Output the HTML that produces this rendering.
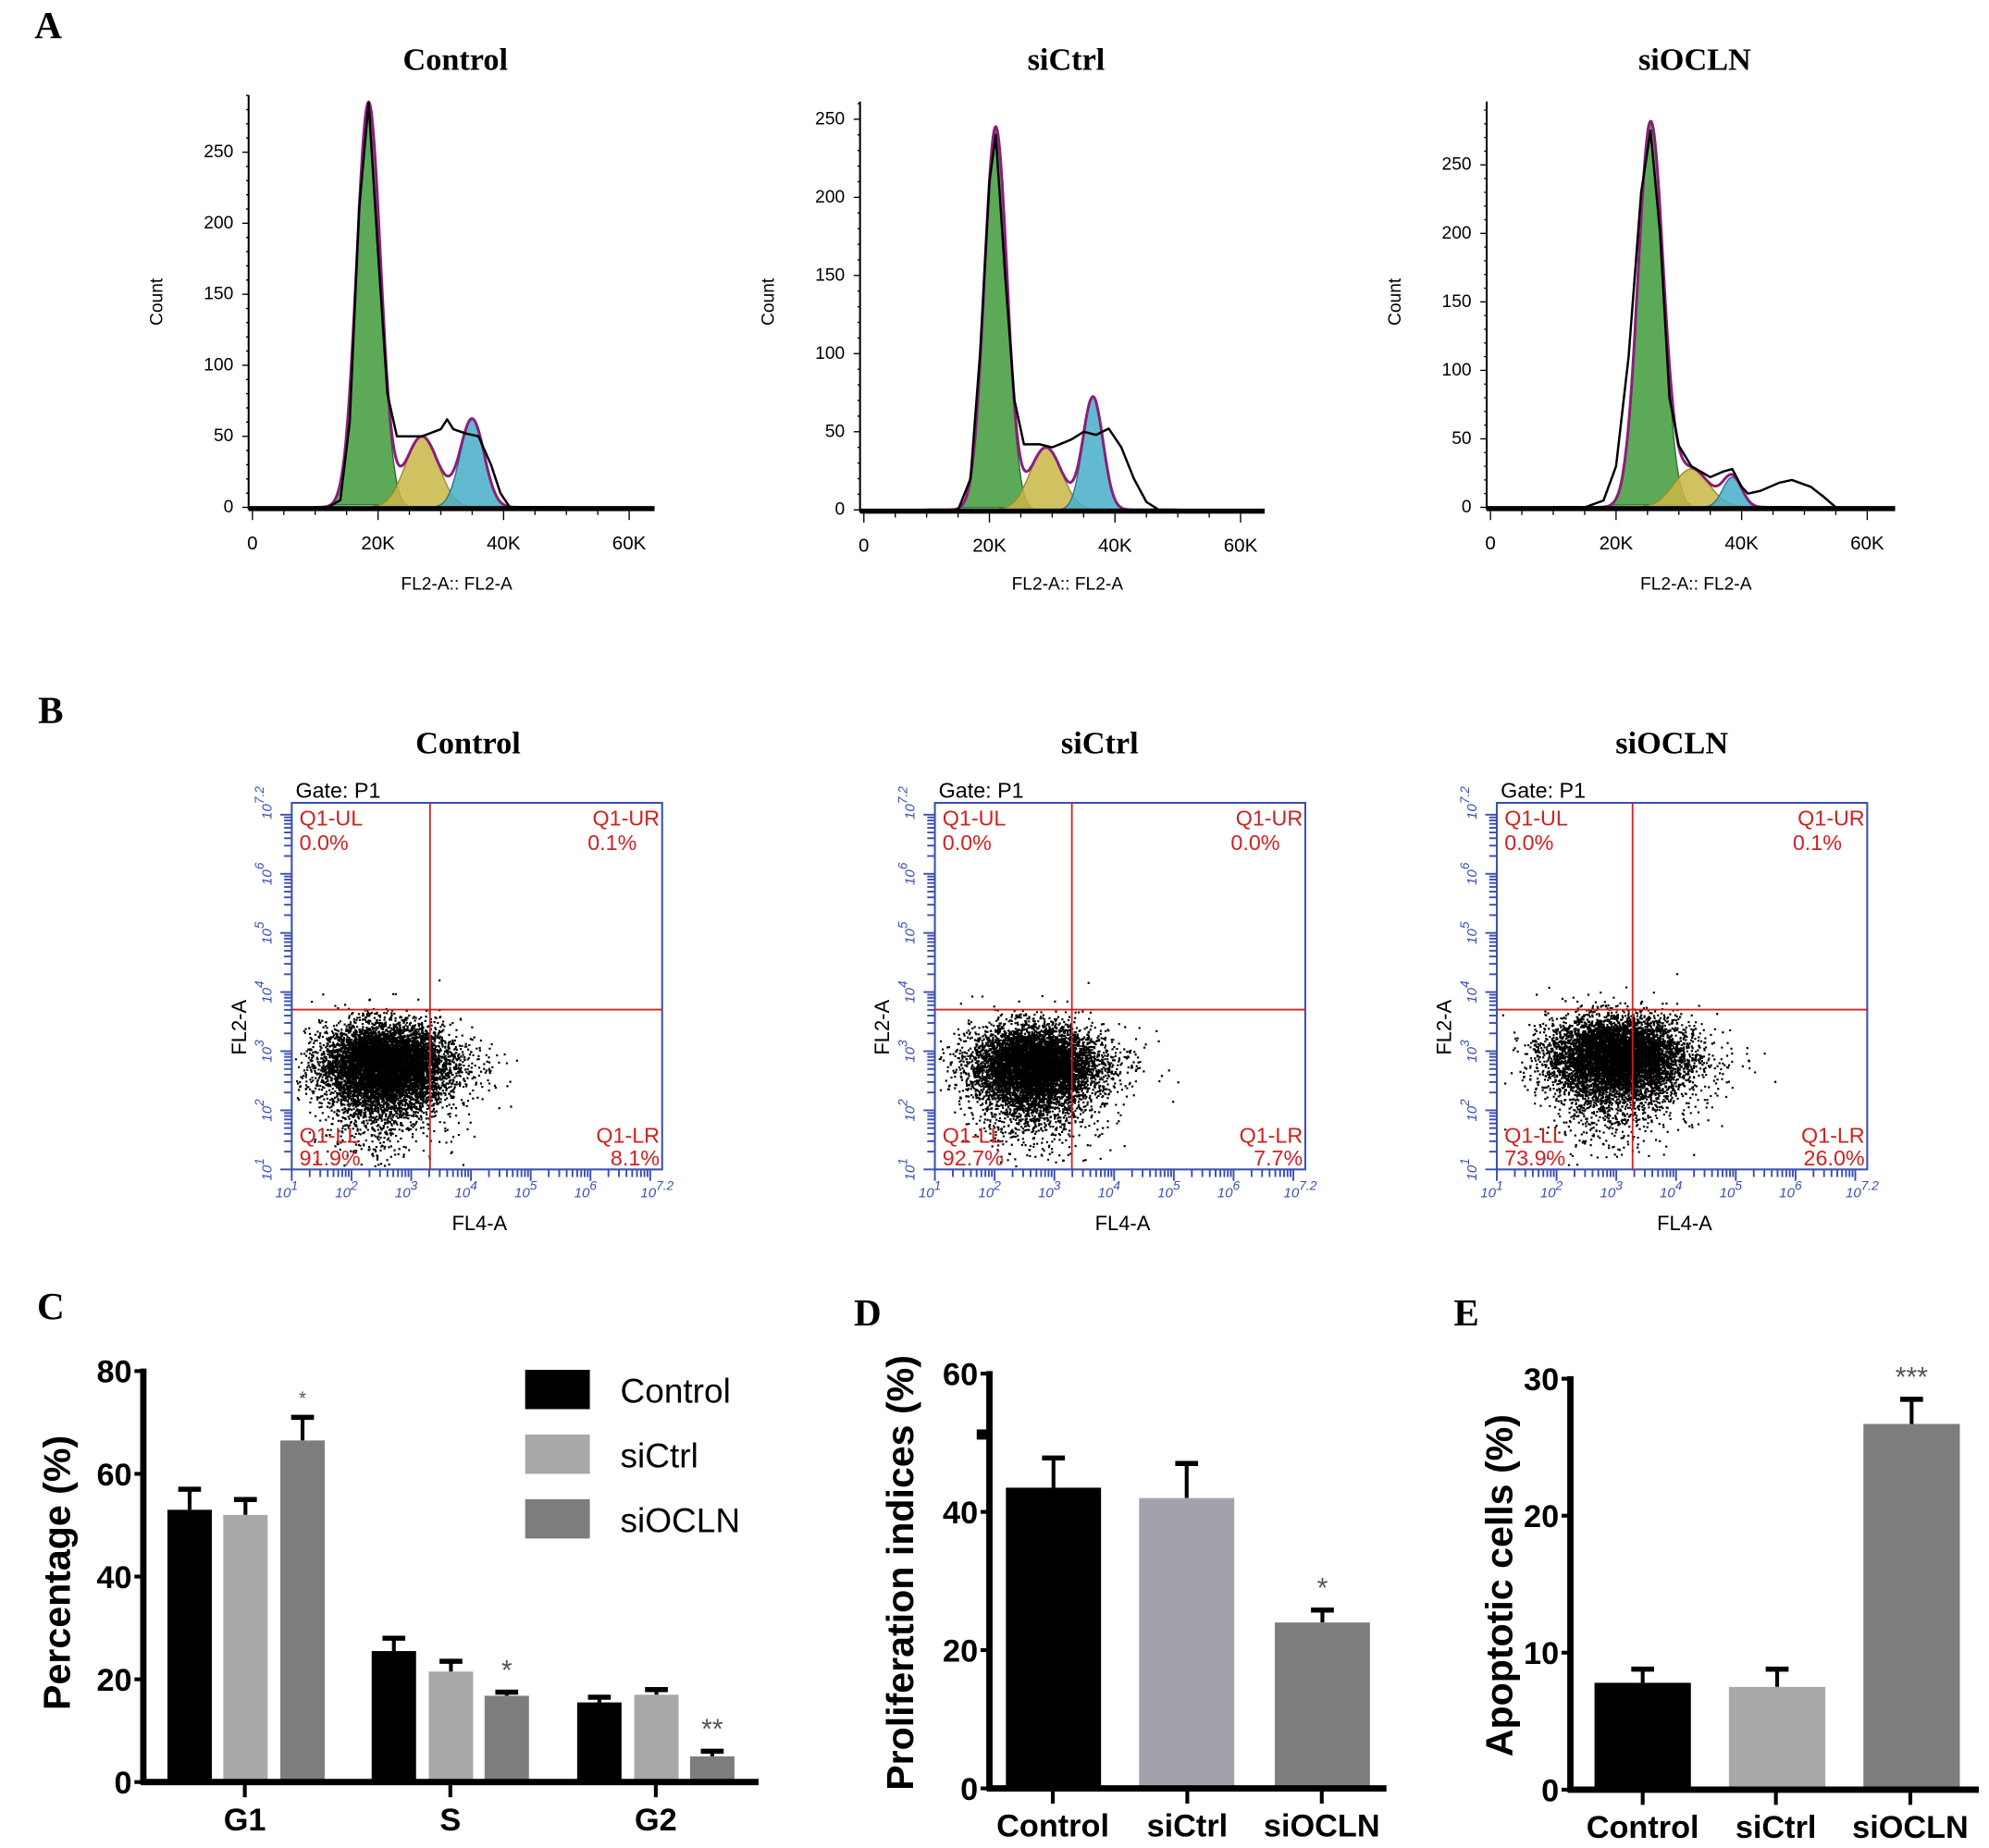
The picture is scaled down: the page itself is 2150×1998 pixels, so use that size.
<!DOCTYPE html>
<html><head><meta charset="utf-8"><style>
html,body{margin:0;padding:0;background:#fff;}
svg{display:block;}
text{font-family:"Liberation Sans",sans-serif;}
.serif{font-family:"Liberation Serif",serif;font-weight:bold;}
</style></head><body>
<svg id="fig" width="2150" height="1998" viewBox="0 0 1568 1457" preserveAspectRatio="none" xmlns="http://www.w3.org/2000/svg">
<rect width="1568" height="1457" fill="#fff"/>
<g id="root"></g>
</svg>
<script>
// ---------- DATA ----------
const histTitles = ["Control","siCtrl","siOCLN"];
const g1Comp = [[18.5,285,1.9],[21,245,1.8],[25.5,280,2.0]];
const sComp  = [[27,50,2.6],[29,40,2.5],[32,28,2.8]];
const g2Comp = [[35,62,1.9],[36.5,72,1.6],[38.5,22,1.5]];
const rawX0 = [12,14,15.5,17,18.5,20,21.5,23,24.5,27,30,31,32,34,36,38,39.5,41];
const rawY0 = [0,5,60,210,285,180,80,50,50,50,55,62,55,52,50,30,10,0];
const rawX1 = [15,17,18.5,20,21,22.5,24,25.5,28,30,33,35,37,39,41,43,45,47];
const rawY1 = [0,20,100,210,240,150,70,42,42,40,45,50,48,52,40,20,5,0];
const rawX2 = [15,18,20,22,24,25.5,27,28.5,30,32,35,37,38.5,40,41,43,46,48,51,53,55];
const rawY2 = [0,5,30,110,230,275,200,80,45,30,22,26,28,15,10,12,18,20,15,8,0];
const histTicksX = ["0","20K","40K","60K"];
const histTickVals = [0,20,40,60];
const countTicks = [0,50,100,150,200,250];

const scatTitles = ["Control","siCtrl","siOCLN"];
const cloudCx = [2.5,2.6,2.95];
const cloudCy = [2.8,2.8,2.95];
const cloudSx = [0.5,0.5,0.55];
const cloudSy = [0.33,0.32,0.32];
const qUL = ["0.0%","0.0%","0.0%"];
const qUR = ["0.1%","0.0%","0.1%"];
const qLL = ["91.9%","92.7%","73.9%"];
const qLR = ["8.1%","7.7%","26.0%"];

const phases = ["G1","S","G2"];
const groups = ["Control","siCtrl","siOCLN"];
const cControl = [53,25.5,15.5];
const cSiCtrl  = [52,21.5,17];
const cSiOCLN  = [66.5,16.8,5];
const cErrControl = [57,28,16.5];
const cErrSiCtrl  = [55,23.5,18];
const cErrSiOCLN  = [71,17.5,6];
const cStars = ["*","*","**"];
const cTicks = [0,20,40,60,80];
const dValues = [43.5,42,24];
const dErr = [47.8,47,25.8];
const dTicks = [0,20,40,60];
const eValues = [7.8,7.5,26.7];
const eErr = [8.8,8.8,28.5];
const eTicks = [0,10,20,30];

// ---------- DRAW ----------
const NS="http://www.w3.org/2000/svg";
const root=document.getElementById('root');
function mk(tag,attrs,parent,txt){const e=document.createElementNS(NS,tag);for(const k in attrs)e.setAttribute(k,attrs[k]);if(txt!==undefined)e.textContent=txt;(parent||root).appendChild(e);return e;}

[["A",38,30],["B",40,570],["C",40,1040],["D",684,1045],["E",1156,1045]].forEach(p=>{
  const t=mk('text',{x:p[1],y:p[2],'font-size':30,'text-anchor':'middle',class:'serif'},root,p[0]);
  
  
});

// ---- Panel A ----
const hLay=[{ax:196,x0:199,y0:400,pc:1.12,right:516,top:75},{ax:678,x0:681,y0:402,pc:1.232,right:997,top:80},{ax:1172,x0:1175,y0:400,pc:1.08,right:1494,top:80}];
const raws=[[rawX0,rawY0],[rawX1,rawY1],[rawX2,rawY2]];
function gauss(c,x){return c[1]*Math.exp(-0.5*Math.pow((x-c[0])/c[2],2));}
hLay.forEach((L,i)=>{
  const g=mk('g',{});
  
  
  const X=k=>L.x0+k*4.95, Y=v=>L.y0-v*L.pc;
  const cx=(L.ax+L.right)/2;
  const t=mk('text',{x:cx+3,y:55,'font-size':25,'text-anchor':'middle',class:'serif'},g,histTitles[i]);
  
  const comps=[[g1Comp[i],'#3f9a3a','#2d6e2a'],[sComp[i],'#c9b745','#9a8a2a'],[g2Comp[i],'#46aec8','#2a6e9a']];
  comps.forEach((c,j)=>{
    let d='';for(let k=c[0][0]-3.2*c[0][2];k<=c[0][0]+3.2*c[0][2];k+=0.1){d+=(d?'L':'M')+X(k).toFixed(1)+','+Y(gauss(c[0],k)).toFixed(1);}
    const p=mk('path',{d:d+'Z',fill:c[1],'fill-opacity':0.85,stroke:c[2],'stroke-width':1},g);
    
  });
  let d='';for(let k=10;k<=50;k+=0.1){const v=gauss(g1Comp[i],k)+gauss(sComp[i],k)+gauss(g2Comp[i],k);d+=(d?'L':'M')+X(k).toFixed(1)+','+Y(v).toFixed(1);}
  const env=mk('path',{d,fill:'none',stroke:'#8a1f7a','stroke-width':2.2},g);
  
  const [rx,ry]=raws[i];let dr='';rx.forEach((x,k)=>{dr+=(k?'L':'M')+X(x).toFixed(1)+','+Y(ry[k]).toFixed(1);});
  const raw=mk('path',{d:dr,fill:'none',stroke:'#000','stroke-width':1.8,'stroke-linejoin':'round'},g);
  
  const ya=mk('line',{x1:L.ax,y1:L.top,x2:L.ax,y2:L.y0+2,stroke:'#000','stroke-width':1.5},g);
  
  const xa=mk('line',{x1:L.ax,y1:L.y0+1,x2:L.right,y2:L.y0+1,stroke:'#000','stroke-width':4},g);
  
  for(let v=0;Y(v)>=L.top;v+=10){mk('line',{x1:L.ax-(v%50?2:5),y1:Y(v),x2:L.ax,y2:Y(v),stroke:'#000','stroke-width':1},g);}
  countTicks.forEach(v=>{if(Y(v)<L.top)return;const tt=mk('text',{x:L.ax-12,y:Y(v)+4,'font-size':14,'text-anchor':'end'},g,String(v));});
  for(let k=0;X(k)<=L.right;k+=5){mk('line',{x1:X(k),y1:L.y0+3,x2:X(k),y2:L.y0+(k%20?6:10),stroke:'#000','stroke-width':1},g);}
  histTickVals.forEach((v,k)=>{const tt=mk('text',{x:X(v),y:L.y0+33,'font-size':15,'text-anchor':'middle'},g,histTicksX[k]);});
  const xl=mk('text',{x:cx+4,y:465,'font-size':14,'text-anchor':'middle'},g,'FL2-A:: FL2-A');
  const yl=mk('text',{x:L.ax-68,y:238,'font-size':14,'text-anchor':'middle',transform:`rotate(-90 ${L.ax-68} 238)`},g,'Count');
});

// ---- Panel B ----
let seed=12345;function rnd(){seed=(seed*1103515245+12345)%2147483648;return seed/2147483648;}
function nrm(){let u=rnd()||1e-9,v=rnd();return Math.sqrt(-2*Math.log(u))*Math.cos(2*Math.PI*v);}
const sLay=[{x:230,qx:339,tx:369},{x:737,qx:845,tx:867},{x:1180,qx:1287,tx:1318}];
sLay.forEach((L,i)=>{
  const g=mk('g',{});
  const top=633,bot=922,w=292;
  const X=d=>L.x+(d-1)/6.2*w, Y=d=>bot-(d-1)/6.2*(bot-top);
  const t=mk('text',{x:L.tx,y:594,'font-size':25,'text-anchor':'middle',class:'serif'},g,scatTitles[i]);
  let d='';
  for(let n=0;n<9000;n++){let dx=cloudCx[i]+nrm()*cloudSx[i],dy=cloudCy[i]+nrm()*cloudSy[i];
    if(n%5==0){dy-=Math.abs(nrm())*0.55;}
    if(n%7==0){dx+=Math.abs(nrm())*0.5;}
    const px=X(dx),py=Y(dy);if(px<L.x+2||px>L.x+w-2||py>bot-2||py<top)continue;d+='M'+px.toFixed(1)+','+py.toFixed(1)+'h1.6v1.6h-1.6z';}
  const pts=mk('path',{d,fill:'#000'},g);
  const fr=mk('rect',{x:L.x,y:top,width:w,height:bot-top,fill:'none',stroke:'#3a4fb0','stroke-width':1.5},g);
  mk('line',{x1:L.qx,y1:top,x2:L.qx,y2:bot,stroke:'#d02020','stroke-width':1.3},g);
  mk('line',{x1:L.x,y1:796,x2:L.x+w,y2:796,stroke:'#d02020','stroke-width':1.3},g);
  for(let dec=1;dec<7.2;dec++){for(let m=1;m<10;m++){const v=dec+Math.log10(m);if(v>7.2)break;
    const big=m==1;mk('line',{x1:X(v),y1:bot,x2:X(v),y2:bot+(big?9:6),stroke:'#3a4fb0','stroke-width':1.4},g);
    mk('line',{x1:L.x,y1:Y(v),x2:L.x-(big?9:6),y2:Y(v),stroke:'#3a4fb0','stroke-width':1.4},g);}}
  ['1','2','3','4','5','6','7.2'].forEach((s,k)=>{const v=k==6?7.2:k+1;
    const tx=mk('text',{x:X(v)-4,y:bot+22,'font-size':11,'font-style':'italic',fill:'#3a4fb0','text-anchor':'middle'},g,'10');
    mk('tspan',{dy:-6,'font-size':10},tx,s);
    const ty=mk('text',{x:L.x-16,y:Y(v),'font-size':11,'font-style':'italic',fill:'#3a4fb0','text-anchor':'middle',transform:`rotate(-90 ${L.x-16} ${Y(v)})`},g,'10');
    mk('tspan',{dy:-6,'font-size':10},ty,s);});
  const red='#d02020';
  const lbl=(x,y,s,a,nm)=>{const e=mk('text',{x,y,'font-size':17,fill:red,'text-anchor':a},g,s);};
  lbl(L.x+6,651,'Q1-UL','start','q-ul-label');lbl(L.x+6,670,qUL[i],'start','q-ul-value');
  lbl(L.x+w-2,651,'Q1-UR','end','q-ur-label');lbl(L.x+w-20,670,qUR[i],'end','q-ur-value');
  lbl(L.x+6,901,'Q1-LL','start','q-ll-label');lbl(L.x+6,919,qLL[i],'start','q-ll-value');
  lbl(L.x+w-2,901,'Q1-LR','end','q-lr-label');lbl(L.x+w-2,919,qLR[i],'end','q-lr-value');
  const gt=mk('text',{x:L.x+3,y:629,'font-size':17},g,'Gate: P1');
  const xl=mk('text',{x:L.x+148,y:970,'font-size':16,'text-anchor':'middle'},g,'FL4-A');
  const yl=mk('text',{x:L.x-36,y:810,'font-size':16,'text-anchor':'middle',transform:`rotate(-90 ${L.x-36} 810)`},g,'FL2-A');
});

function barChart(o){
  const g=mk('g',{});
  const Y=v=>o.y0-(v/o.max)*(o.y0-o.ytop);
  o.bars.forEach(b=>{
    const eb=mk('line',{x1:b.x+b.w/2,y1:Y(b.err),x2:b.x+b.w/2,y2:Y(b.v),stroke:'#000','stroke-width':3},g);
    const cap=mk('line',{x1:b.x+b.w/2-9,y1:Y(b.err),x2:b.x+b.w/2+9,y2:Y(b.err),stroke:'#000','stroke-width':4},g);
    const r=mk('rect',{x:b.x,y:Y(b.v),width:b.w,height:o.y0-Y(b.v),fill:b.c},g);
    if(b.star){const s=mk('text',{x:b.x+b.w/2,y:Y(b.err)-10,'font-size':b.fs||22,fill:'#555','text-anchor':'middle'},g,b.star);}
  });
  const ya=mk('line',{x1:o.ax,y1:o.ytop-2,x2:o.ax,y2:o.y0+2,stroke:'#000','stroke-width':5},g);
  const xa=mk('line',{x1:o.ax-2,y1:o.y0,x2:o.right,y2:o.y0,stroke:'#000','stroke-width':5},g);
  o.ticks.forEach(v=>{mk('line',{x1:o.ax-7,y1:Y(v),x2:o.ax,y2:Y(v),stroke:'#000','stroke-width':3},g);
    const t=mk('text',{x:o.ax-9,y:Y(v)+9,'font-size':25,'font-weight':'bold','text-anchor':'end'},g,String(v));});
  o.cats.forEach((c,k)=>{mk('line',{x1:o.catX[k],y1:o.y0,x2:o.catX[k],y2:o.y0+12,stroke:'#000','stroke-width':3},g);
    const t=mk('text',{x:o.catX[k],y:o.y0+38,'font-size':25,'font-weight':'bold','text-anchor':'middle'},g,c);});
  const yl=mk('text',{x:o.ylx,y:o.yly,'font-size':30,'font-weight':'bold','text-anchor':'middle',transform:`rotate(-90 ${o.ylx} ${o.yly})`},g,o.ylabel);
  return g;
}
const colC='#000',colS='#a8a8a8',colO='#7d7d7d';
(function(){
  const starts=[[132,176,221],[293,338,382],[455,500,544]];
  const bars=[];
  phases.forEach((p,k)=>{
    bars.push({x:starts[k][0],w:35,v:cControl[k],err:cErrControl[k],c:colC,name:'bar-control-'+p.toLowerCase()});
    bars.push({x:starts[k][1],w:35,v:cSiCtrl[k],err:cErrSiCtrl[k],c:colS,name:'bar-sictrl-'+p.toLowerCase()});
    bars.push({x:starts[k][2],w:35,v:cSiOCLN[k],err:cErrSiOCLN[k],c:colO,name:'bar-siocln-'+p.toLowerCase(),star:cStars[k],fs:k==0?15:22});
  });
  const g=barChart({name:'cell-cycle-chart',ax:113,y0:1405,ytop:1081,max:80,right:598,ticks:cTicks,bars,cats:phases,catX:[193,355,517],ylabel:'Percentage  (%)',ylx:55,yly:1240});
  const cols=[colC,colS,colO];
  groups.forEach((n,k)=>{const y=1080+k*51;
    const r=mk('rect',{x:414,y:y,width:51,height:31,fill:cols[k]},g);
    const t=mk('text',{x:489,y:y+26,'font-size':27},g,n);});
})();
(function(){
  const xs=[793,898,1005],cols=[colC,'#a2a2aa',colO];
  const bars=groups.map((n,k)=>({x:xs[k],w:75,v:dValues[k],err:dErr[k],c:cols[k],name:'bar-'+n.toLowerCase(),star:k==2?'*':null}));
  const g=barChart({name:'proliferation-chart',ax:780,y0:1410,ytop:1083,max:60,right:1093,ticks:dTicks,bars,cats:groups,catX:[830,936,1042],ylabel:'Proliferation indices  (%)',ylx:720,yly:1240});
  mk('rect',{x:770,y:1127,width:10,height:8,fill:'#000'},g);
})();
(function(){
  const xs=[1257,1363,1469],cols=[colC,colS,colO];
  const bars=groups.map((n,k)=>({x:xs[k],w:76,v:eValues[k],err:eErr[k],c:cols[k],name:'bar-'+n.toLowerCase(),star:k==2?'***':null}));
  barChart({name:'apoptosis-chart',ax:1238,y0:1411,ytop:1087,max:30,right:1560,ticks:eTicks,bars,cats:groups,catX:[1295,1400,1506],ylabel:'Apoptotic cells  (%)',ylx:1192,yly:1250});
})();
</script>
</body></html>
